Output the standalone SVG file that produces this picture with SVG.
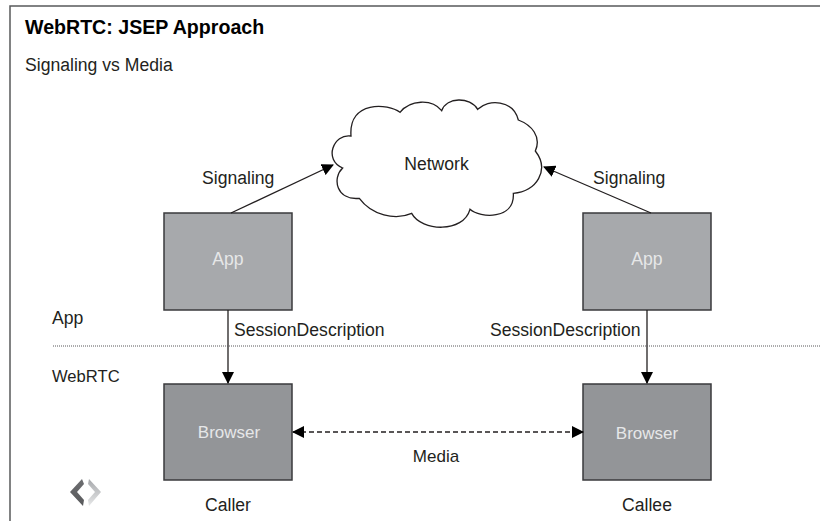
<svg xmlns="http://www.w3.org/2000/svg" width="820" height="521" viewBox="0 0 820 521">
<defs>
<marker id="arr" viewBox="0 0 12 12" refX="11" refY="6" markerWidth="12" markerHeight="12" markerUnits="userSpaceOnUse" orient="auto-start-reverse"><path d="M0 0L12 6L0 12Z" fill="#000"/></marker>
<linearGradient id="g1" x1="0" y1="0" x2="0" y2="1"><stop offset="0" stop-color="#6d6e71"/><stop offset="1" stop-color="#58595b"/></linearGradient>
<linearGradient id="g2" x1="0" y1="0" x2="0" y2="1"><stop offset="0" stop-color="#a7a9ac"/><stop offset="1" stop-color="#e6e7e8"/></linearGradient>
</defs>
<style>
text{font-family:"Liberation Sans",Arial,sans-serif;font-size:17.6px;fill:#231f20}
.c{text-anchor:middle}
.w{fill:#e6e7e8}
.box{stroke:#3a3a3c;stroke-width:1.5}
.app{fill:#a7a9ac}
.br{fill:#939598}
.ln{fill:none;stroke:#231f20;stroke-width:1.3}
</style>
<rect width="820" height="521" fill="#fff"/>
<path d="M10 521V6H820" fill="none" stroke="#58595b" stroke-width="1.5"/>
<text x="25" y="34" style="font-weight:bold;font-size:19.6px;fill:#000">WebRTC: JSEP Approach</text>
<text x="25" y="71">Signaling vs Media</text>
<g id="network">
<path transform="translate(300 70) scale(.33333)" d="M300 127C265 100 145 90 153 198C100 190 70 270 128 294C95 325 110 392 178 385C215 435 285 452 335 430C365 485 490 490 510 418C540 445 645 450 640 370C710 365 750 300 706 243C725 200 695 165 655 150C640 90 565 85 533 118C510 80 440 80 425 122C395 85 330 90 300 127Z" fill="#fff" stroke="#231f20" stroke-width="4"/>
<text class="c" x="436.500" y="170">Network</text>
</g>
<g id="app-left"><rect class="box app" x="164" y="213" width="128" height="97"/><text class="c w" x="228" y="265">App</text></g>
<g id="app-right"><rect class="box app" x="583" y="213" width="128" height="97"/><text class="c w" x="647" y="265">App</text></g>
<g id="browser-left"><rect class="box br" x="164" y="384" width="128" height="96"/><text class="c w" x="229" y="438" style="font-size:17px">Browser</text></g>
<g id="browser-right"><rect class="box br" x="583" y="384" width="128" height="96"/><text class="c w" x="647" y="439" style="font-size:17px">Browser</text></g>
<g id="connectors">
<path class="ln" d="M231 213L333 165" marker-end="url(#arr)"/>
<path class="ln" d="M651 213L544 167" marker-end="url(#arr)"/>
<path class="ln" d="M228 310V383" marker-end="url(#arr)"/>
<path class="ln" d="M647 310V383" marker-end="url(#arr)"/>
<path class="ln" d="M293 432H583" stroke-dasharray="5 3" marker-start="url(#arr)" marker-end="url(#arr)"/>
<path d="M53 346H820" fill="none" stroke="#58595b" stroke-width="1" stroke-dasharray="1 1"/>
</g>
<text x="202" y="184">Signaling</text>
<text x="593" y="184">Signaling</text>
<text x="52" y="324">App</text>
<text x="234" y="336">SessionDescription</text>
<text x="490" y="336">SessionDescription</text>
<text x="52" y="382" style="font-size:16.6px">WebRTC</text>
<text class="c" x="436" y="462" style="font-size:17px">Media</text>
<text class="c" x="228" y="511">Caller</text>
<text class="c" x="647" y="511">Callee</text>
<path d="M82 479L70 492L83 506L84 500L77 492L84 484Z" fill="url(#g1)"/>
<path d="M89 479L101 492L89 506L88 500L95 492L88 484Z" fill="url(#g2)"/>
</svg>
